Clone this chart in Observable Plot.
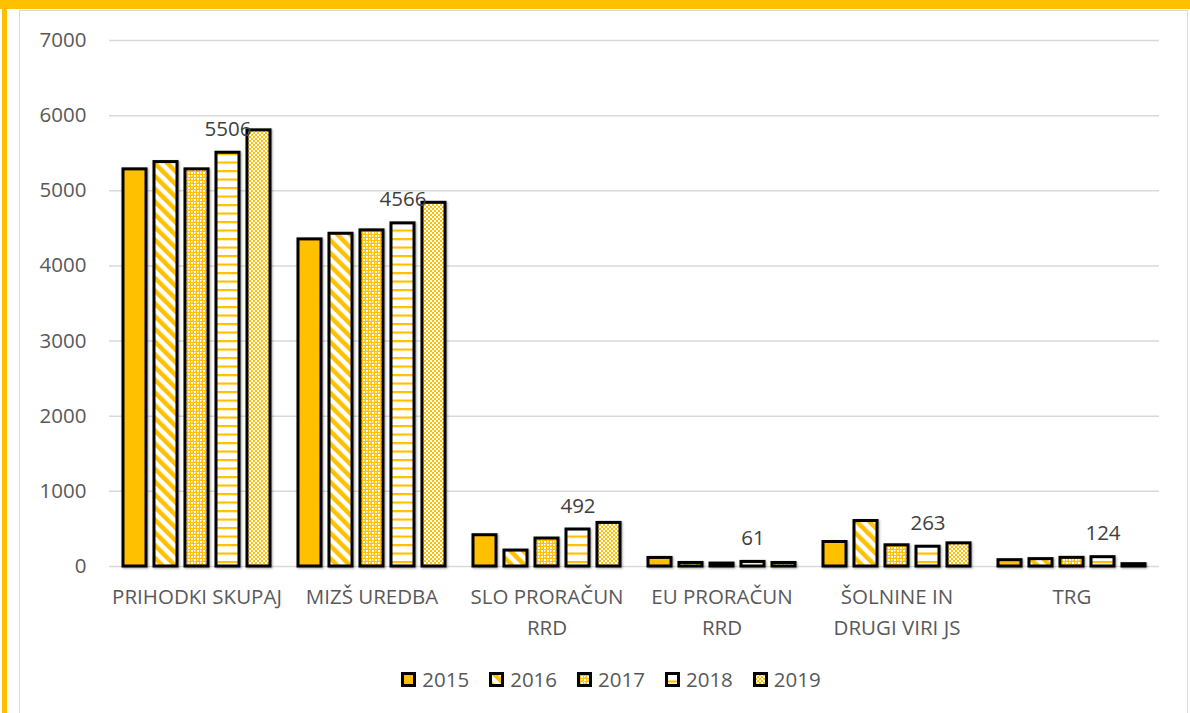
<!DOCTYPE html>
<html>
<head>
<meta charset="utf-8">
<script src="https://cdn.jsdelivr.net/npm/d3@7"></script>
<script src="https://cdn.jsdelivr.net/npm/@observablehq/plot@0.6"></script>
<style>
  html, body { margin: 0; padding: 0; background: #fff; }
  #wrap { position: relative; width: 1190px; height: 713px; overflow: hidden; font-family: "Open Sans", sans-serif; }
  #topband { position: absolute; left: 0; top: 0; width: 1190px; height: 9px; background: #FFC000; }
  #leftband { position: absolute; left: 2px; top: 0; width: 5px; height: 713px; background: #FFC000; }
  #frame { position: absolute; left: 19px; top: 10px; width: 1169px; height: 720px; border: 1.5px solid #d9d9d9; box-sizing: border-box; }
  #chart { position: absolute; left: 0; top: 0; }
  #legend { position: absolute; left: 0; top: 665px; width: 1190px; display: flex; justify-content: center; padding-left: 52px; box-sizing: border-box; font-size: 20.5px; color: #595959; }
  .item { display: flex; align-items: center; margin-right: 20px; }
  .item svg { margin-right: 6px; }
  g[aria-label="bar"] rect { filter: drop-shadow(1.5px 1.5px 1px rgba(0,0,0,0.35)); }
</style>
</head>
<body>
<svg width="0" height="0" style="position:absolute">
  <defs>
    <pattern id="p2016" patternUnits="userSpaceOnUse" width="9" height="9" patternTransform="rotate(-45)">
      <rect width="9" height="9" fill="#fff"/>
      <rect width="4.5" height="9" fill="#FFC000"/>
    </pattern>
    <pattern id="p2017" patternUnits="userSpaceOnUse" width="6" height="6">
      <rect width="6" height="6" fill="#FFC000"/>
      <rect x="1" y="1" width="2" height="2" fill="#fff"/>
      <rect x="4" y="4" width="2" height="2" fill="#fff"/>
      <rect x="4" y="1" width="1.5" height="1.5" fill="#fff"/>
      <rect x="1" y="4" width="1.5" height="1.5" fill="#fff"/>
    </pattern>
    <pattern id="p2018" patternUnits="userSpaceOnUse" width="8" height="8.5">
      <rect width="8" height="8.5" fill="#fff"/>
      <rect y="0" width="8" height="2.2" fill="#FFC000"/>
    </pattern>
    <pattern id="p2019" patternUnits="userSpaceOnUse" width="4" height="4">
      <rect width="4" height="4" fill="#fff"/>
      <rect width="2" height="2" fill="#FFC000"/>
      <rect x="2" y="2" width="2" height="2" fill="#FFC000"/>
    </pattern>
  </defs>
</svg>
<div id="wrap">
  <div id="topband"></div>
  <div id="leftband"></div>
  <div id="frame"></div>
  <div id="chart"></div>
  <div id="legend"></div>
</div>
<script>
const categories = ["PRIHODKI SKUPAJ", "MIZŠ UREDBA", "SLO PRORAČUN\nRRD", "EU PRORAČUN\nRRD", "ŠOLNINE IN\nDRUGI VIRI JS", "TRG"];
const years = ["2015", "2016", "2017", "2018", "2019"];
const v2015 = [5285, 4353, 416, 114, 326, 84];
const v2016 = [5382, 4428, 212, 47, 605, 98];
const v2017 = [5285, 4473, 372, 39, 282, 115];
const v2018 = [5506, 4566, 492, 61, 263, 124];
const v2019 = [5804, 4840, 580, 47, 308, 31];
const labeledYear = "2018";
const yTicks = [0, 1000, 2000, 3000, 4000, 5000, 6000, 7000];

const series = [v2015, v2016, v2017, v2018, v2019];
const fills = ["#FFC000", "url(#p2016)", "url(#p2017)", "url(#p2018)", "url(#p2019)"];

const data = [];
categories.forEach((c, i) => years.forEach((y, j) => data.push({cat: c, year: y, value: series[j][i]})));

const chart = Plot.plot({
  width: 1190,
  height: 655,
  marginTop: 40,
  marginBottom: 89,
  marginLeft: 108,
  marginRight: 31,
  style: {fontFamily: "Open Sans, sans-serif", fontSize: "20.5px", color: "#595959", background: "transparent"},
  fx: {domain: categories, padding: 0, label: null},
  x: {domain: years, paddingInner: 0.25, paddingOuter: 0.4, axis: null},
  y: {domain: [0, 7000], label: null},
  color: {type: "ordinal", domain: years, range: fills},
  marks: [
    Plot.gridY(yTicks, {stroke: "#d9d9d9", strokeOpacity: 1, strokeWidth: 1.5}),
    Plot.axisY(yTicks, {tickSize: 0, tickPadding: 23, fontSize: 20.5, tickFormat: d => String(d), fill: "#595959"}),
    Plot.axisFx({anchor: "bottom", tickSize: 0, tickPadding: 16, fontSize: 20.5, lineHeight: 1.5, fill: "#595959", label: null}),
    Plot.barY(data, {fx: "cat", x: "year", y: "value", fill: "year", stroke: "#000", strokeWidth: 3}),
    Plot.text(data.filter(d => d.year === labeledYear), {fx: "cat", x: "year", y: "value", text: d => String(d.value), lineAnchor: "bottom", dy: -17, fontSize: 20.5, fill: "#404040"})
  ]
});
document.getElementById("chart").appendChild(chart);

const legend = document.getElementById("legend");
years.forEach((y, j) => {
  const item = document.createElement("div");
  item.className = "item";
  item.innerHTML = `<svg width="15" height="15"><rect x="1.5" y="1.5" width="12" height="12" fill="${fills[j]}" stroke="#000" stroke-width="3"/></svg><span>${y}</span>`;
  legend.appendChild(item);
});
</script>
</body>
</html>
